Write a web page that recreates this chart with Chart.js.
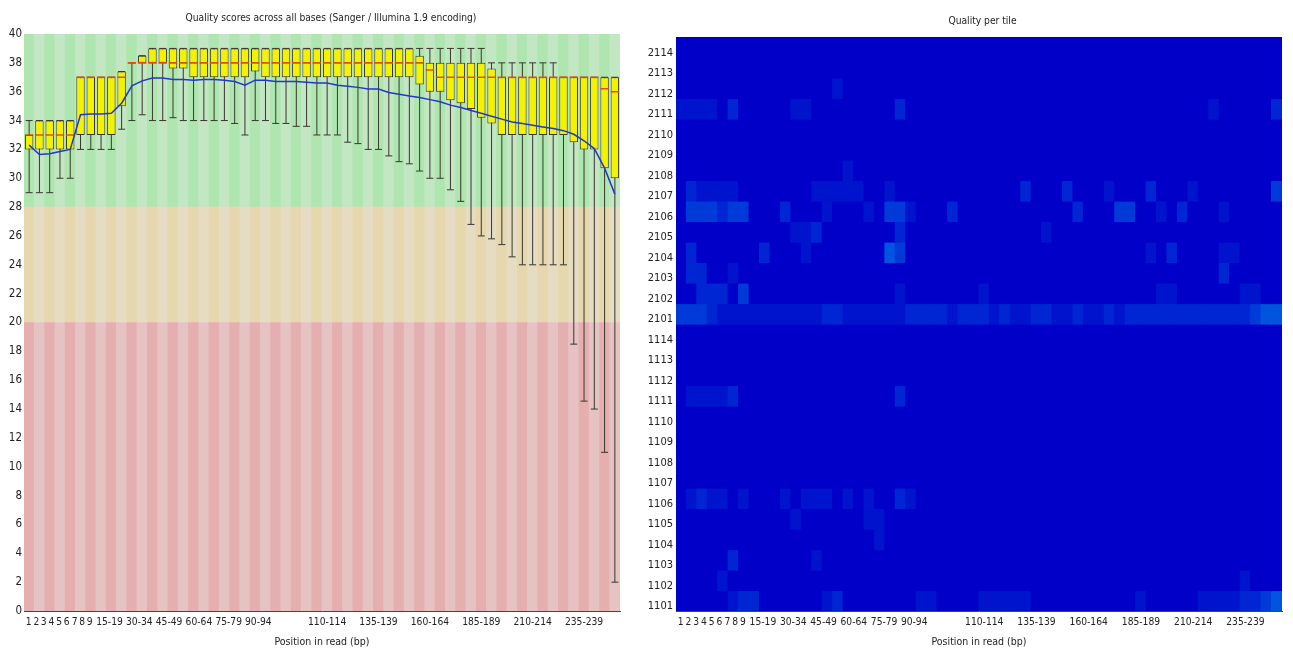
<!DOCTYPE html>
<html>
<head>
<meta charset="utf-8">
<script src="https://cdn.jsdelivr.net/npm/chart.js@4/dist/chart.umd.min.js"></script>
<style>
  html, body { margin: 0; padding: 0; background: #fff; }
  #wrap { position: relative; width: 1293px; height: 651px; overflow: hidden; }
  #qual { position: absolute; left: 0; top: 0; }
  #tile { position: absolute; left: 640px; top: 0; }
</style>
</head>
<body>
<div id="wrap">
  <canvas id="qual" width="640" height="651"></canvas>
  <canvas id="tile" width="653" height="651"></canvas>
</div>
<script>
// Read positions (bp): single bases first, then 5-base groups
const positions = ['1','2','3','4','5','6','7','8','9',
  '10-14','15-19','20-24','25-29','30-34','35-39','40-44','45-49','50-54','55-59',
  '60-64','65-69','70-74','75-79','80-84','85-89','90-94','95-99','100-104','105-109',
  '110-114','115-119','120-124','125-129','130-134','135-139','140-144','145-149','150-154','155-159',
  '160-164','165-169','170-174','175-179','180-184','185-189','190-194','195-199','200-204','205-209',
  '210-214','215-219','220-224','225-229','230-234','235-239','240-244','245-249','250-251'];

// Phred quality per position: 10th percentile, quartiles, median, 90th percentile, mean
const p10 = [29,29,29,30,30,32,32,32,32,33.4,
  34,34.4,34,34,34.2,34,34,34,34,34,
  33.8,33,34,34,33.8,33.8,33.6,33.6,33,33,
  33,32.5,32.4,32,32,31.55,31.15,31,30.5,30,
  30,29.2,28.4,26.8,26,25.8,25.4,24.55,24,24,
  24,24,24,18.5,14.55,14,11,2];
const q1 = [32,32,32,32,32,33,33,33,33,35,
  38,38,38,38,37.6,37.6,37,37,37,37,
  37,37,37.4,37,37,37,37,37,37,37,
  37,37,37,37,37,37,37,37,36.5,36,
  36,35.4,35.2,34.8,34.2,33.8,33,33,33,33,
  33,33,33,32.5,32,32,30.7,30];
const median = [33,33,33,33,33,37,37,37,37,37,
  38,38,38,38,38,38,38,38,38,38,
  38,38,38,38,38,38,38,38,38,38,
  38,38,38,38,38,38,38,38,38,37.5,
  37,37,37,37,37,37,37,37,37,37,
  37,37,37,37,37,37,36.2,36];
const q3 = [33,34,34,34,34,37,37,37,37,37.4,
  38,38.5,39,39,39,39,39,39,39,39,
  39,39,39,39,39,39,39,39,39,39,
  39,39,39,39,39,39,39,39,38.5,38,
  38,38,38,38,38,37.6,37,37,37,37,
  37,37,37,37,37,37,37,37];
const p90 = [34,34,34,34,34,37,37,37,37,37.4,
  38,38.5,39,39,39,39,39,39,39,39,
  39,39,39,39,39,39,39,39,39,39,
  39,39,39,39,39,39,39,39,39,39,
  39,39,39,39,39,38,38,38,38,38,
  38,38,37,37,37,37,37,37];
const mean = [32.3,31.65,31.7,31.85,32.0,34.4,34.45,34.45,34.5,35.2,
  36.4,36.75,36.95,36.95,36.85,36.85,36.8,36.85,36.85,36.8,
  36.7,36.45,36.8,36.8,36.7,36.7,36.7,36.65,36.6,36.6,
  36.45,36.37,36.3,36.18,36.18,35.95,35.83,35.7,35.6,35.45,
  35.3,35.07,34.9,34.7,34.5,34.3,34.1,33.9,33.8,33.68,
  33.56,33.45,33.3,33.05,32.6,32.06,30.7,28.9];

// Quality bands: poor / reasonable / good
const zoneEdges = [0, 20, 28, 40];

// Position labels printed under the axes, and where they sit (in position-slot units)
const xTickText = ['1','2','3','4','5','6','7','8','9','15-19','30-34','45-49','60-64','75-79','90-94',
  '110-114','135-139','160-164','185-189','210-214','235-239'];
const xTickSlot = [-0.05,0.7,1.42,2.18,2.92,3.66,4.42,5.16,5.9,7.82,10.72,13.62,16.52,19.42,22.3,
  29,34,39,44,49,54];

// Flowcell tiles, top to bottom
const tiles = ['2114','2113','2112','2111','2110','2109','2108','2107','2106','2105','2104','2103','2102','2101',
  '1114','1113','1112','1111','1110','1109','1108','1107','1106','1105','1104','1103','1102','1101'];

// Per-tile deviation level (0 = none … 4 = highest), one digit per position group
const tileHeat = [
  '0000000000 0000000000 0000000000 0000000000 0000000000 00000000',
  '0000000000 0000000000 0000000000 0000000000 0000000000 00000000',
  '0000000000 0000010000 0000000000 0000000000 0000000000 00000000',
  '1111020000 0110000000 0200000000 0000000000 0000000000 01000002',
  '0000000000 0000000000 0000000000 0000000000 0000000000 00000000',
  '0000000000 0000000000 0000000000 0000000000 0000000000 00000000',
  '0000000000 0000001000 0000000000 0000000000 0000000000 00000000',
  '0211110000 0001111100 1000000000 0002000200 0100020001 00000003',
  '0333233000 2000100010 3310002000 0000000020 0033001020 00100000',
  '0000000000 0112000000 0200000000 0000010000 0000000000 00000000',
  '0200000020 0010000000 4300000000 0000000000 0000010200 00110000',
  '0220010000 0000000000 0000000000 0000000000 0000000000 00200000',
  '0022203000 0000000000 0100000001 0000000000 0000001100 00001100',
  '3332111111 1111221111 1122221222 1211221121 1212222222 22222344',
  '0000000000 0000000000 0000000000 0000000000 0000000000 00000000',
  '0000000000 0000000000 0000000000 0000000000 0000000000 00000000',
  '0000000000 0000000000 0000000000 0000000000 0000000000 00000000',
  '0111120000 0000000000 0200000000 0000000000 0000000000 00000000',
  '0000000000 0000000000 0000000000 0000000000 0000000000 00000000',
  '0000000000 0000000000 0000000000 0000000000 0000000000 00000000',
  '0000000000 0000000000 0000000000 0000000000 0000000000 00000000',
  '0000000000 0000000000 0000000000 0000000000 0000000000 00000000',
  '0121101000 1011101010 0210000000 0000000000 0000000000 00000000',
  '0000000000 0100000011 0000000000 0000000000 0000000000 00000000',
  '0000000000 0000000001 0000000000 0000000000 0000000000 00000000',
  '0000020000 0001000000 0000000000 0000000000 0000000000 00000000',
  '0000100000 0000000000 0000000000 0000000000 0000000000 00001000',
  '0000012200 0000120000 0001100001 1111000000 0000100000 11112234'
];

// ---- styling ----
const FONT = '"DejaVu Sans Condensed", "DejaVu Sans", sans-serif';
Chart.defaults.font.family = FONT;
Chart.defaults.font.size = 10;
Chart.defaults.color = '#222';

const ink = 'rgb(55,55,45)';
const axisInk = 'rgb(70,70,70)';
const boxFill = 'rgb(245,242,0)';
const medianInk = 'rgb(225,80,0)';
const meanInk = 'rgb(35,55,200)';
const zoneColours = [
  ['rgb(230,175,175)', 'rgb(230,195,195)'],
  ['rgb(230,215,175)', 'rgb(230,220,195)'],
  ['rgb(175,230,175)', 'rgb(195,230,195)']
];
const heatPalette = ['rgb(0,0,200)', 'rgb(0,20,206)', 'rgb(0,38,211)', 'rgb(0,58,216)', 'rgb(0,84,222)'];

// Centred chart heading above the plot area
const heading = {
  id: 'heading',
  afterDraw(chart, args, o) {
    const { ctx, chartArea: a } = chart;
    ctx.save();
    ctx.font = '10.2px ' + FONT;
    ctx.fillStyle = '#222';
    ctx.textAlign = 'center';
    ctx.textBaseline = 'middle';
    ctx.fillText(o.text, (a.left + a.right) / 2 + o.dx, o.y);
    ctx.restore();
  }
};

// Shared bottom axis carrying the position labels
function positionAxis() {
  return {
    type: 'linear', axis: 'x', position: 'bottom', min: -0.5, max: 57.5, offset: false,
    afterBuildTicks: a => { a.ticks = xTickSlot.map(v => ({ value: v })); },
    afterFit: a => { a.height = 40; },
    ticks: { autoSkip: false, maxRotation: 0, padding: 5, color: '#222', font: { size: 10.2 },
      callback: (v, i) => xTickText[i] },
    grid: { display: false, drawTicks: false, offset: false },
    border: { display: true, color: axisInk, width: 1 },
    title: { display: true, text: 'Position in read (bp)', color: '#222', font: { size: 10.5 },
      padding: { top: 0, bottom: 2 } }
  };
}

// ---- per-base quality box plot ----
const stripes = (dark, light) => positions.map((_, i) => (i % 2 === 0 ? dark : light));
const zoneSets = zoneColours.map((c, z) => ({
  type: 'bar',
  data: positions.map(() => [zoneEdges[z], zoneEdges[z + 1]]),
  backgroundColor: stripes(c[0], c[1]),
  borderWidth: 0, grouped: false, barPercentage: 1, categoryPercentage: 1, order: 20
}));

new Chart(document.getElementById('qual'), {
  type: 'bar',
  data: {
    labels: positions,
    datasets: [
      ...zoneSets,
      { type: 'bar', data: positions.map((_, i) => [p10[i], p90[i]]), backgroundColor: ink,
        barThickness: 1, grouped: false, inflateAmount: 0, order: 12 },
      { type: 'bar', data: positions.map((_, i) => [q1[i], q3[i]]), backgroundColor: boxFill,
        borderColor: ink, borderWidth: 1, borderSkipped: false, grouped: false,
        barPercentage: 0.82, categoryPercentage: 1, order: 10 },
      { type: 'line', data: p10, showLine: false, pointStyle: 'line', pointRadius: 3.5,
        borderColor: ink, pointBorderColor: ink, pointBorderWidth: 1, order: 8 },
      { type: 'line', data: p90, showLine: false, pointStyle: 'line', pointRadius: 3.5,
        borderColor: ink, pointBorderColor: ink, pointBorderWidth: 1, order: 8 },
      { type: 'line', data: median, showLine: false, pointStyle: 'line', pointRadius: 4.2,
        borderColor: medianInk, pointBorderColor: medianInk, pointBorderWidth: 1.6, order: 6 },
      { type: 'line', data: mean, borderColor: meanInk, borderWidth: 1.5, pointRadius: 0,
        tension: 0, order: 2 }
    ]
  },
  options: {
    responsive: false, animation: false, events: [],
    layout: { padding: { left: 0, right: 20, top: 34, bottom: 0 } },
    plugins: {
      legend: { display: false }, tooltip: { enabled: false },
      heading: { text: 'Quality scores across all bases (Sanger / Illumina 1.9 encoding)', dx: 9, y: 18 }
    },
    scales: {
      x: { type: 'category', display: false, offset: true },
      xl: positionAxis(),
      y: {
        type: 'linear', min: 0, max: 40,
        afterFit: a => { a.width = 24; },
        ticks: { stepSize: 2, padding: 2, color: '#222', font: { size: 11.5 } },
        grid: { display: false, drawTicks: false },
        border: { display: true, color: axisInk, width: 1 }
      }
    }
  },
  plugins: [heading]
});

// ---- per-tile quality heat map ----
const heatLevels = tileHeat.map(s => s.replace(/ /g, '').split('').map(Number));
const tileLabelShift = 0.27;

new Chart(document.getElementById('tile'), {
  type: 'bar',
  data: {
    labels: positions,
    datasets: tiles.map((t, r) => ({
      label: t,
      data: positions.map(() => 1),
      backgroundColor: heatLevels[r].map(l => heatPalette[l]),
      borderWidth: 0, barPercentage: 1, categoryPercentage: 1, inflateAmount: 0.6
    }))
  },
  options: {
    responsive: false, animation: false, events: [],
    layout: { padding: { left: 0, right: 11, top: 37, bottom: 0 } },
    plugins: {
      legend: { display: false }, tooltip: { enabled: false },
      heading: { text: 'Quality per tile', dx: 3.5, y: 21 }
    },
    scales: {
      x: { type: 'category', display: false, offset: true, stacked: true },
      xl: positionAxis(),
      y: {
        type: 'linear', min: 0, max: tiles.length, reverse: true, stacked: true,
        afterBuildTicks: a => { a.ticks = tiles.map((t, r) => ({ value: r + 0.5 + tileLabelShift })); },
        afterFit: a => { a.width = 36; },
        ticks: { autoSkip: false, padding: 3, color: '#222', font: { size: 11 }, callback: (v, i) => tiles[i] },
        grid: { display: false, drawTicks: false },
        border: { display: false }
      }
    }
  },
  plugins: [heading]
});
</script>
</body>
</html>
